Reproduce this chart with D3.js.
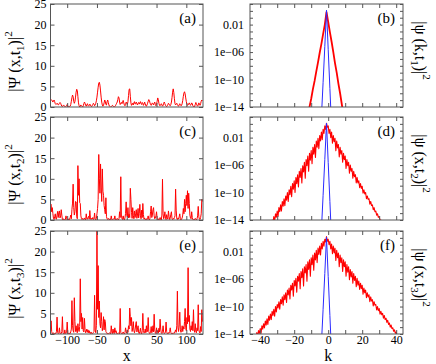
<!DOCTYPE html>
<html>
<head>
<meta charset="utf-8">
<script src="https://cdn.jsdelivr.net/npm/d3@7"></script>
<style>
body { margin: 0; background: #fff; }
text { font-family: "Liberation Serif", "Times New Roman", serif; fill: #000; }
</style>
</head>
<body>
<svg id="chart" width="436" height="364"></svg>
<script>
// lattice sites x = -128 .. 127
const sites = d3.range(-128, 128);

// |Psi(x,t1)|^2
const psiT1 = [
  1.8,1.8,1.7,1.5,1.2,1.5,1.7,1.3,0.8,0.6,0.7,0.9,0.8,0.5,0.6,0.9,
  1.1,0.9,0.5,0.2,0.1,0.3,0.5,0.3,0.1,0.0,0.1,0.4,0.6,0.3,0.1,0.0,
  0.1,0.2,0.6,1.4,2.3,2.9,2.5,1.4,0.9,1.3,2.4,3.6,4.3,4.0,2.5,1.0,
  0.3,0.0,0.2,0.5,0.3,0.1,0.0,0.3,0.8,1.2,0.9,0.4,0.2,0.5,0.8,0.4,
  0.2,0.4,0.7,0.5,0.2,0.1,0.3,0.6,0.9,0.7,0.3,0.5,0.9,1.5,2.4,3.6,
  4.8,5.8,6.0,5.3,3.9,2.4,1.2,0.5,0.2,0.4,1.0,1.7,1.4,0.6,0.5,1.3,
  1.7,1.1,0.5,0.2,0.1,0.0,0.1,0.2,0.4,0.3,0.1,0.0,0.1,0.3,0.6,0.9,
  1.2,1.8,2.5,2.2,1.2,0.6,0.9,1.1,0.8,1.3,1.6,1.0,0.5,0.3,0.6,1.2,
  1.0,0.6,1.3,2.8,4.3,4.4,2.6,1.0,0.4,0.6,0.9,0.5,1.0,1.3,0.7,0.8,
  1.2,0.8,0.5,0.9,1.1,0.7,1.0,1.3,0.8,0.6,1.1,0.9,0.4,0.7,1.2,0.8,
  0.3,0.2,0.5,0.9,1.4,1.8,1.6,1.0,0.6,0.4,0.7,1.0,0.8,0.5,0.9,1.2,
  0.6,0.3,0.7,1.4,2.2,1.8,0.9,0.4,0.3,0.6,0.8,0.5,0.2,0.4,0.9,1.2,
  0.8,0.4,0.2,0.1,0.3,0.6,0.9,0.7,0.4,0.3,0.6,1.2,2.3,3.6,4.4,3.5,
  2.0,0.8,0.5,0.7,0.9,0.6,0.3,0.2,0.5,0.8,0.6,0.3,0.4,0.8,1.6,2.6,
  3.4,3.7,3.2,2.2,1.3,0.7,0.4,0.5,0.8,1.0,0.7,0.4,0.6,1.0,0.8,0.3,
  0.1,0.0,0.2,0.6,1.1,0.8,0.4,0.2,0.5,1.0,0.7,0.4,0.8,1.4,1.7,1.5
];

// |Psi(x,t2)|^2
const psiT2 = [
  3.5,3.8,2.0,3.0,1.6,0.4,0.1,0.8,1.5,0.3,0.2,1.2,2.1,0.6,1.8,2.2,
  0.5,1.0,2.5,1.2,0.1,0.0,0.3,0.1,0.0,0.2,1.0,0.4,0.0,0.1,0.0,0.3,
  0.1,0.6,1.2,0.3,2.6,4.1,8.7,3.0,1.2,2.0,4.5,4.4,0.8,0.3,13.2,6.0,
  10.0,4.2,4.0,1.0,0.3,0.1,0.4,0.2,0.1,0.5,0.2,0.0,1.5,0.3,0.2,0.6,
  0.9,0.2,2.3,0.5,0.1,0.4,0.2,0.6,0.1,0.3,1.7,0.2,0.0,0.4,1.5,2.8,
  5.0,15.9,10.0,6.5,13.6,8.0,4.5,12.4,7.0,6.0,3.5,2.5,1.5,5.4,0.8,0.3,
  0.1,0.4,0.2,0.0,0.3,0.1,1.0,0.2,0.0,0.1,0.3,0.2,1.0,0.1,0.0,0.2,
  0.4,0.1,0.0,0.3,2.0,0.6,10.5,1.2,0.3,0.1,1.0,0.2,0.0,0.5,1.6,4.4,
  1.2,0.8,3.0,0.5,1.4,0.6,7.7,5.0,1.8,0.4,3.0,1.1,0.3,2.2,0.6,1.5,
  2.5,0.4,1.2,2.8,0.5,1.6,3.8,1.0,0.3,2.4,0.6,4.0,1.3,0.2,0.5,0.1,
  0.0,0.3,0.1,0.6,1.0,0.2,0.0,0.4,2.0,3.4,0.6,1.2,2.5,3.0,1.0,0.3,
  0.5,1.0,2.0,0.4,0.1,0.3,0.0,0.2,0.6,0.1,0.0,1.2,9.9,1.5,0.3,0.8,
  2.0,0.4,0.1,1.3,0.6,0.2,2.2,0.9,0.1,0.5,1.4,2.0,0.3,0.1,0.4,0.2,
  0.6,1.0,7.5,2.4,0.3,0.1,0.5,0.2,0.8,1.5,0.3,0.0,0.2,0.5,1.2,2.8,
  1.5,5.0,2.0,4.0,6.0,3.5,7.1,2.8,6.5,4.0,1.2,0.5,0.3,2.0,0.6,0.1,
  0.0,0.2,0.1,0.4,0.2,0.0,0.3,1.0,3.3,0.8,0.2,0.1,0.6,1.5,5.0,4.5
];

// |Psi(x,t3)|^2
const psiT3 = [
  0.5,3.2,0.6,0.1,0.0,0.3,0.1,0.0,0.2,0.1,0.6,4.1,0.4,0.1,0.3,1.5,
  0.2,0.0,0.1,0.6,4.2,0.3,0.1,0.0,1.0,0.2,0.1,0.3,2.9,0.4,0.1,0.0,
  0.2,0.1,0.5,1.2,8.1,2.0,0.8,0.4,8.8,3.0,0.6,2.0,0.7,0.3,2.5,1.2,
  0.6,1.8,13.4,3.0,5.0,1.2,4.0,0.8,0.5,3.8,1.0,0.3,0.6,1.2,0.4,1.0,
  0.3,0.8,0.2,0.1,0.5,0.2,0.0,0.1,0.4,0.6,9.4,1.0,0.3,2.0,25.0,6.0,
  16.6,4.0,8.0,2.5,1.5,5.2,3.0,0.8,1.6,4.2,1.0,3.5,3.0,0.6,0.3,0.1,
  0.2,0.0,0.1,0.3,0.2,0.0,2.0,0.5,0.1,1.2,0.3,0.1,1.5,0.4,0.8,0.2,
  0.0,0.1,0.3,0.1,0.0,6.2,0.4,0.1,0.0,0.2,0.5,0.1,0.0,0.3,1.5,0.6,
  0.2,1.0,0.4,2.0,1.2,6.3,4.2,2.0,4.0,0.6,1.5,3.0,0.8,0.3,1.0,2.2,
  3.0,0.5,1.2,2.0,0.3,0.1,0.6,1.4,0.2,0.0,0.8,5.0,0.9,0.2,0.4,1.2,
  0.3,2.0,0.5,1.0,4.0,0.6,0.2,0.1,0.4,1.8,0.3,0.7,2.0,0.5,4.8,1.0,
  0.3,0.1,1.5,0.4,0.8,0.2,1.4,0.5,3.6,1.2,0.3,0.1,0.6,2.0,0.4,0.1,
  0.2,0.5,2.9,0.6,0.1,0.0,0.3,0.2,0.6,1.5,0.4,0.1,0.0,0.2,0.1,0.3,
  0.2,0.6,1.0,0.4,2.0,10.4,1.5,0.6,2.2,5.3,1.0,0.4,0.8,2.0,0.6,1.8,
  1.2,3.0,6.2,1.5,0.8,4.0,2.5,16.1,3.0,4.5,1.2,0.6,2.0,1.0,3.0,0.8,
  5.9,1.0,0.4,2.5,0.6,0.3,1.5,0.8,7.1,1.0,0.4,0.2,1.8,0.6,5.9,3.0
];

// momentum space, values given as log10 |psi(k)|^2
const kT1 = d3.range(-12, 10);
const logPsiKT1 = [-15.2,-14.0,-12.8,-11.4,-10.2,-8.8,-7.5,-6.1,-4.8,-3.4,-2.0,-0.2,
  -1.6,-3.1,-4.5,-6.0,-7.6,-9.0,-10.6,-12.0,-13.6,-15.1];

const kT2 = d3.range(-35, 34, 0.5);
const logPsiKT2 = [
  -14.9,-15.4,-14.4,-14.9,-14.0,-14.5,-13.5,-14.2,-13.1,-13.6,-12.7,-13.5,-12.2,-12.8,
  -11.8,-12.7,-11.3,-12.0,-10.9,-11.9,-10.5,-11.1,-10.0,-11.3,-9.6,-10.3,-9.1,-10.6,
  -8.7,-9.5,-8.3,-10.0,-7.8,-8.7,-7.4,-9.2,-6.9,-7.8,-6.5,-8.6,-6.1,-7.0,-5.6,-7.9,
  -5.2,-6.1,-4.7,-6.9,-4.3,-5.3,-3.9,-5.8,-3.4,-4.4,-3.0,-4.9,-2.5,-3.4,-2.1,-3.6,
  -1.7,-2.5,-1.2,-2.3,-0.8,-1.4,-0.3,-0.8,0.1,
  -0.5,-0.3,-1.4,-0.8,-2.0,-1.2,-2.8,-1.7,-2.6,-2.1,-3.9,-2.5,-3.5,-3.0,-4.8,-3.4,
  -4.4,-3.9,-5.6,-4.3,-5.2,-4.7,-6.5,-5.2,-6.1,-5.6,-7.2,-6.0,-6.9,-6.5,-7.9,-6.9,
  -7.7,-7.4,-8.6,-7.8,-8.6,-8.3,-9.3,-8.7,-9.4,-9.1,-10.1,-9.6,-10.2,-10.0,-10.9,-10.5,
  -11.0,-10.9,-11.7,-11.3,-11.9,-11.8,-12.5,-12.2,-12.8,-12.7,-13.3,-13.1,-13.6,-13.5,
  -14.1,-14.0,-14.5,-14.4,-14.9,-14.9,-15.3
];

const kT3 = d3.range(-45, 45, 0.5);
const logPsiKT3 = [
  -14.8,-15.3,-14.5,-14.9,-14.2,-14.7,-13.8,-14.4,-13.5,-13.9,-13.2,-13.9,-12.8,-13.3,
  -12.5,-13.1,-12.1,-12.7,-11.8,-12.6,-11.4,-12.0,-11.1,-11.9,-10.7,-11.3,-10.4,-11.4,
  -10.0,-10.8,-9.7,-10.2,-9.3,-10.4,-9.0,-9.6,-8.6,-9.8,-8.3,-9.0,-8.0,-9.4,-7.6,-8.3,
  -7.3,-8.9,-6.9,-7.6,-6.6,-8.5,-6.2,-7.0,-5.9,-7.9,-5.6,-6.3,-5.2,-7.4,-4.9,-5.8,
  -4.5,-7.0,-4.2,-5.1,-3.9,-6.3,-3.5,-4.6,-3.2,-5.6,-2.9,-3.9,-2.5,-4.7,-2.2,-3.2,
  -1.8,-3.6,-1.5,-2.4,-1.2,-2.5,-0.8,-1.6,-0.5,-1.2,-0.2,-0.6,0.2,
  -0.5,-0.2,-1.0,-0.5,-1.6,-0.9,-2.3,-1.2,-2.2,-1.5,-3.3,-1.8,-2.9,-2.2,-4.2,-2.5,
  -3.6,-2.9,-4.9,-3.2,-4.2,-3.5,-5.6,-3.9,-5.0,-4.2,-6.1,-4.6,-5.7,-4.9,-6.6,-5.2,
  -6.2,-5.6,-7.1,-5.9,-6.9,-6.3,-7.5,-6.6,-7.4,-6.9,-8.2,-7.3,-8.0,-7.6,-8.7,-8.0,
  -8.6,-8.3,-9.3,-8.6,-9.2,-9.0,-9.9,-9.3,-9.8,-9.7,-10.5,-10.0,-10.6,-10.3,-11.1,-10.7,
  -11.2,-11.0,-11.7,-11.3,-11.9,-11.7,-12.3,-12.0,-12.6,-12.4,-13.0,-12.7,-13.2,-13.1,
  -13.6,-13.4,-13.9,-13.7,-14.3,-14.1,-14.5,-14.4,-14.9,-14.8,-15.2,-15.1,-15.5
];

// initial state (blue)
const kInit = [-4, -3, -2, -1, 0, 1, 2];
const logPsiK0 = [-15.5, -10.4, -5.2, 0.1, -5.6, -11.3, -17.0];

const xTicks = [-100, -50, 0, 50, 100];
const yLinTicks = [0, 5, 10, 15, 20, 25];
const kTicks = [-40, -30, -20, -10, 0, 10, 20, 30, 40];
const kLabelTicks = [-40, -20, 0, 20, 40];
const logMinorTicks = d3.range(-14, 2);
const logLabelExps = [-2, -6, -10, -14];
const logLabels = ['0.01', '1e\u221206', '1e\u221210', '1e\u221214'];

const leftTags = ['(a)', '(c)', '(e)'];
const rightTags = ['(b)', '(d)', '(f)'];
const timeSubs = ['1', '2', '3'];
const rightVars = ['k', 'x', 'x'];

const svg = d3.select('#chart');

const rowTops = [4, 117, 231];
const panelH = 103;
const leftX0 = 50.5, leftX1 = 203;
const rightX0 = 250, rightX1 = 403;
const frameColor = '#555';

const xScale = d3.scaleLinear().domain([-128, 128]).range([0, leftX1 - leftX0]);
const yLin = d3.scaleLinear().domain([0, 25]).range([panelH, 0]);
const kScale = d3.scaleLinear().domain([-46, 44]).range([0, rightX1 - rightX0]);
const yLog = d3.scaleLog().domain([1e-14, 10]).range([panelH, 0]);

function styleAxis(g) {
  g.attr('font-family', null).attr('font-size', 12);
  g.select('.domain').remove();
  g.selectAll('line').attr('stroke', frameColor);
  g.selectAll('text').attr('fill', '#000');
}

function psiLabel(g, head, sub) {
  const t = g.append('text').attr('font-size', 16).attr('text-anchor', 'middle');
  t.append('tspan').text(head);
  t.append('tspan').attr('font-size', 11).attr('dy', 4).text(sub);
  t.append('tspan').attr('dy', -4).text(')|');
  t.append('tspan').attr('font-size', 11).attr('dy', -8).text('2');
}

// left column: |Psi(x,t)|^2
[psiT1, psiT2, psiT3].forEach((vals, r) => {
  const top = rowTops[r];
  const w = leftX1 - leftX0;
  const g = svg.append('g').attr('transform', `translate(${leftX0},${top})`);

  g.append('clipPath').attr('id', 'clipL' + r)
    .append('rect').attr('width', w).attr('height', panelH);

  g.append('path')
    .datum(vals)
    .attr('clip-path', `url(#clipL${r})`)
    .attr('fill', 'none')
    .attr('stroke', '#ff0000')
    .attr('stroke-width', 1)
    .attr('stroke-linejoin', 'round')
    .attr('d', d3.line().x((d, i) => xScale(sites[i])).y(d => yLin(d)));

  const last = r === 2;
  g.append('g').attr('transform', `translate(0,${panelH})`)
    .call(d3.axisBottom(xScale).tickValues(xTicks).tickSize(-4).tickPadding(1)
      .tickFormat(last ? d3.format('d') : ''))
    .call(styleAxis);
  g.append('g')
    .call(d3.axisTop(xScale).tickValues(xTicks).tickSize(-4).tickFormat(''))
    .call(styleAxis);
  g.append('g')
    .call(d3.axisLeft(yLin).tickValues(yLinTicks).tickSize(-4).tickPadding(4))
    .call(styleAxis);
  g.append('g').attr('transform', `translate(${w},0)`)
    .call(d3.axisRight(yLin).tickValues(yLinTicks).tickSize(-4).tickFormat(''))
    .call(styleAxis);

  g.append('rect').attr('width', w).attr('height', panelH)
    .attr('fill', 'none').attr('stroke', frameColor);

  g.append('text').attr('x', w - 7).attr('y', 19)
    .attr('text-anchor', 'end').attr('font-size', 15).text(leftTags[r]);

  const lab = svg.append('g')
    .attr('transform', `translate(20,${top + panelH / 2 + 6}) rotate(-90)`);
  psiLabel(lab, '|\u03A8 (x,t', timeSubs[r]);
});

// right column: |psi(k,t)|^2 on log scale
[[kT1, logPsiKT1], [kT2, logPsiKT2], [kT3, logPsiKT3]].forEach(([ks, vals], r) => {
  const top = rowTops[r];
  const w = rightX1 - rightX0;
  const g = svg.append('g').attr('transform', `translate(${rightX0},${top})`);

  g.append('clipPath').attr('id', 'clipR' + r)
    .append('rect').attr('width', w).attr('height', panelH);

  const plot = g.append('g').attr('clip-path', `url(#clipR${r})`);

  plot.append('path')
    .datum(vals)
    .attr('fill', 'none')
    .attr('stroke', '#ff0000')
    .attr('stroke-width', r === 0 ? 1.8 : 1.1)
    .attr('stroke-linejoin', 'round')
    .attr('d', d3.line().x((d, i) => kScale(ks[i])).y(d => yLog(Math.pow(10, d))));

  plot.append('path')
    .datum(logPsiK0)
    .attr('fill', 'none')
    .attr('stroke', '#2a2aff')
    .attr('stroke-width', 1)
    .attr('d', d3.line().x((d, i) => kScale(kInit[i])).y(d => yLog(Math.pow(10, d))));

  const last = r === 2;
  g.append('g').attr('transform', `translate(0,${panelH})`)
    .call(d3.axisBottom(kScale).tickValues(kTicks).tickSize(-4).tickPadding(1)
      .tickFormat(d => (last && kLabelTicks.includes(d)) ? d3.format('d')(d) : ''))
    .call(styleAxis);
  g.append('g')
    .call(d3.axisTop(kScale).tickValues(kTicks).tickSize(-4).tickFormat(''))
    .call(styleAxis);
  g.append('g')
    .call(d3.axisLeft(yLog).tickValues(logMinorTicks.map(e => Math.pow(10, e)))
      .tickSize(-3).tickPadding(6)
      .tickFormat(d => {
        const e = Math.round(Math.log10(d));
        const idx = logLabelExps.indexOf(e);
        return idx >= 0 ? logLabels[idx] : '';
      }))
    .call(styleAxis);
  g.append('g').attr('transform', `translate(${w},0)`)
    .call(d3.axisRight(yLog).tickValues(logMinorTicks.map(e => Math.pow(10, e)))
      .tickSize(-3).tickFormat(''))
    .call(styleAxis);

  g.append('rect').attr('width', w).attr('height', panelH)
    .attr('fill', 'none').attr('stroke', frameColor);

  g.append('text').attr('x', w - 8).attr('y', 19)
    .attr('text-anchor', 'end').attr('font-size', 15).text(rightTags[r]);

  const lab = svg.append('g')
    .attr('transform', `translate(415,${top + panelH / 2 - 5}) rotate(90)`);
  psiLabel(lab, '|\u03C8 (' + rightVars[r] + ',t', timeSubs[r]);
});

svg.append('text').attr('x', leftX0 + xScale(0)).attr('y', 361)
  .attr('text-anchor', 'middle').attr('font-size', 16).text('x');
svg.append('text').attr('x', rightX0 + kScale(0)).attr('y', 361)
  .attr('text-anchor', 'middle').attr('font-size', 16).text('k');
</script>
</body>
</html>
